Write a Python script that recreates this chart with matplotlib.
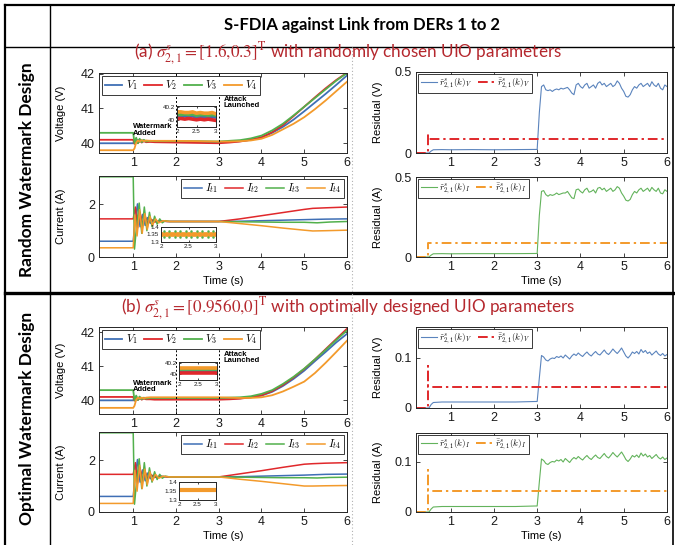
import numpy as np
import matplotlib
matplotlib.use("Agg")
import matplotlib.pyplot as plt
from matplotlib.lines import Line2D
from matplotlib.font_manager import FontProperties

plt.rcParams['font.family'] = ['Liberation Sans', 'DejaVu Sans']
plt.rcParams['mathtext.fontset'] = 'cm'

# ---------------- data ----------------
C_BLUE, C_RED, C_GREEN, C_ORANGE = '#3f6fb5', '#e0282b', '#52b04c', '#f39a2b'

# bus voltages (V)
t_v = [0.2, 1.0, 1.03, 1.07, 1.11, 1.15, 1.2, 1.25, 1.3, 1.4, 1.5, 2.0, 2.5,
       3.0, 3.25, 3.5, 3.75, 4.0, 4.25, 4.5, 4.75, 5.0, 5.25, 5.5, 5.75, 6.0]
V1_a = [40.0, 40.0, 40.08, 40.03, 40.1, 40.04, 40.09, 40.05, 40.07, 40.05, 40.05, 40.05, 40.04,
        40.03, 40.04, 40.06, 40.1, 40.17, 40.3, 40.47, 40.68, 40.92, 41.17, 41.42, 41.68, 41.95]
V2_a = [40.1, 40.1, 39.98, 40.12, 40.0, 40.1, 40.02, 40.07, 40.03, 40.04, 40.03, 40.02, 40.01,
        40.0, 40.02, 40.05, 40.1, 40.17, 40.32, 40.52, 40.78, 41.05, 41.32, 41.58, 41.82, 42.03]
V3_a = [40.3, 40.3, 40.0, 40.16, 40.0, 40.13, 40.03, 40.1, 40.05, 40.07, 40.06, 40.06, 40.06,
        40.05, 40.07, 40.09, 40.14, 40.22, 40.37, 40.56, 40.8, 41.05, 41.3, 41.55, 41.8, 42.02]
V4_a = [39.8, 39.8, 39.85, 40.02, 40.08, 40.05, 40.09, 40.06, 40.08, 40.07, 40.07, 40.07, 40.06,
        40.05, 40.05, 40.06, 40.08, 40.13, 40.24, 40.4, 40.56, 40.75, 40.98, 41.23, 41.5, 41.77]

V1_b = [40.0, 40.0, 40.07, 40.03, 40.08, 40.04, 40.07, 40.05, 40.06, 40.05, 40.05, 40.05, 40.05,
        40.04, 40.05, 40.06, 40.09, 40.14, 40.25, 40.42, 40.63, 40.87, 41.15, 41.42, 41.7, 41.95]
V2_b = [40.1, 40.1, 39.99, 40.1, 40.01, 40.08, 40.02, 40.06, 40.03, 40.03, 40.02, 40.02, 40.02,
        40.02, 40.03, 40.05, 40.09, 40.15, 40.27, 40.45, 40.67, 40.92, 41.2, 41.5, 41.8, 42.1]
V3_b = [40.3, 40.3, 40.0, 40.14, 40.01, 40.11, 40.03, 40.08, 40.05, 40.07, 40.07, 40.07, 40.07,
        40.07, 40.08, 40.09, 40.12, 40.19, 40.3, 40.48, 40.69, 40.93, 41.2, 41.48, 41.77, 42.05]
V4_b = [39.78, 39.78, 39.84, 40.02, 40.08, 40.05, 40.08, 40.06, 40.08, 40.09, 40.09, 40.09, 40.09,
        40.09, 40.08, 40.07, 40.07, 40.09, 40.15, 40.26, 40.4, 40.55, 40.8, 41.1, 41.42, 41.75]

# zoom window 2 s .. 3 s
t_zoom = [2.0, 2.1, 2.2, 2.3, 2.4, 2.5, 2.6, 2.7, 2.8, 2.9, 3.0]
Vz1_a = [40.07, 40.06, 40.07, 40.06, 40.07, 40.05, 40.06, 40.06, 40.05, 40.06, 40.05]
Vz2_a = [40.03, 40.03, 40.02, 40.03, 40.02, 40.01, 40.02, 40.01, 40.02, 40.01, 40.0]
Vz3_a = [40.1, 40.09, 40.1, 40.09, 40.1, 40.08, 40.09, 40.09, 40.08, 40.09, 40.08]
Vz4_a = [40.13, 40.13, 40.12, 40.12, 40.13, 40.11, 40.12, 40.11, 40.11, 40.12, 40.1]
Vz1_b = [40.05] * 11
Vz2_b = [40.02] * 11
Vz3_b = [40.09] * 11
Vz4_b = [40.12] * 11

# terminal currents (A)
t_i1 = [0.2, 1.0, 1.04, 1.1, 1.16, 1.22, 1.28, 1.34, 1.4, 1.47, 1.55, 1.65, 1.8, 2.0,
        3.0, 3.5, 4.0, 4.5, 5.0, 5.5, 6.0]
I1_a = [0.6, 0.6, 1.3, 2.02, 1.15, 1.62, 1.2, 1.5, 1.28, 1.42, 1.32, 1.38, 1.35, 1.35,
        1.35, 1.36, 1.38, 1.4, 1.42, 1.44, 1.45]
I1_b = [0.6, 0.6, 1.3, 2.02, 1.15, 1.62, 1.2, 1.5, 1.28, 1.42, 1.32, 1.38, 1.35, 1.35,
        1.35, 1.36, 1.38, 1.4, 1.42, 1.45, 1.46]
t_i2 = [0.2, 1.0, 1.05, 1.1, 1.16, 1.22, 1.28, 1.34, 1.42, 1.5, 1.6, 1.8, 2.0,
        3.0, 3.5, 4.0, 4.5, 5.0, 5.2, 5.5, 6.0]
I2_a = [1.45, 1.45, 1.9, 1.1, 1.7, 1.22, 1.55, 1.28, 1.43, 1.33, 1.37, 1.35, 1.35,
        1.35, 1.45, 1.57, 1.69, 1.81, 1.85, 1.87, 1.9]
I2_b = [1.45, 1.45, 1.9, 1.1, 1.7, 1.22, 1.55, 1.28, 1.43, 1.33, 1.37, 1.35, 1.35,
        1.35, 1.47, 1.59, 1.72, 1.84, 1.86, 1.88, 1.9]
t_i3 = [0.2, 1.0, 1.03, 1.08, 1.14, 1.2, 1.26, 1.32, 1.38, 1.44, 1.5, 1.56, 1.62, 1.68,
        1.75, 1.85, 2.0, 3.0, 3.5, 4.0, 4.5, 5.0, 5.3, 5.6, 6.0]
I3_a = [3.05, 3.05, 0.3, 1.2, 2.05, 0.9, 1.9, 1.0, 1.7, 1.15, 1.55, 1.25, 1.45, 1.3,
        1.38, 1.35, 1.35, 1.35, 1.34, 1.33, 1.32, 1.32, 1.3, 1.33, 1.35]
I3_b = [3.05, 3.05, 0.3, 1.2, 2.05, 0.9, 1.9, 1.0, 1.7, 1.15, 1.55, 1.25, 1.45, 1.3,
        1.38, 1.35, 1.35, 1.35, 1.34, 1.33, 1.32, 1.32, 1.31, 1.33, 1.34]
t_i4 = [0.2, 1.0, 1.04, 1.09, 1.15, 1.21, 1.27, 1.33, 1.39, 1.45, 1.52, 1.6, 1.7, 1.85,
        2.0, 3.0, 3.5, 4.0, 4.5, 5.0, 5.2, 5.5, 6.0]
I4_a = [0.35, 0.35, 1.6, 0.8, 1.8, 0.9, 1.65, 1.05, 1.55, 1.2, 1.45, 1.3, 1.38, 1.35,
        1.35, 1.35, 1.27, 1.19, 1.1, 1.02, 0.99, 1.0, 1.02]
I4_b = [0.33, 0.33, 1.6, 0.8, 1.8, 0.9, 1.65, 1.05, 1.55, 1.2, 1.45, 1.3, 1.38, 1.35,
        1.35, 1.35, 1.26, 1.18, 1.09, 1.0, 1.0, 1.01, 1.02]
Iz_edge = [2.05, 2.15, 2.25, 2.35, 2.45, 2.55, 2.65, 2.75, 2.85, 2.95]

# residuals
t_pre = [0.2, 0.5, 0.55, 0.6, 0.8, 1.0, 1.5, 2.0, 2.5, 2.95]
rV_a_pre = [0.0, 0.0, 0.012, 0.02, 0.021, 0.02, 0.021, 0.02, 0.021, 0.022]
rI_a_pre = [0.0, 0.0, 0.012, 0.02, 0.021, 0.02, 0.021, 0.021, 0.021, 0.022]
rV_b_pre = [0.0, 0.0, 0.007, 0.011, 0.012, 0.012, 0.012, 0.012, 0.012, 0.013]
rI_b_pre = [0.0, 0.0, 0.006, 0.01, 0.011, 0.011, 0.011, 0.011, 0.011, 0.012]

rV_a_post = [0.022, 0.25, 0.41, 0.42, 0.39, 0.385, 0.39, 0.38, 0.39, 0.395, 0.39, 0.40,
             0.395, 0.40, 0.405, 0.39, 0.37, 0.36, 0.42, 0.43, 0.41, 0.40, 0.42, 0.43,
             0.40, 0.41, 0.42, 0.40, 0.43, 0.44, 0.42, 0.43, 0.41, 0.42, 0.43, 0.41,
             0.42, 0.445, 0.43, 0.40, 0.38, 0.35, 0.345, 0.36, 0.39, 0.41, 0.40, 0.42,
             0.43, 0.41, 0.42, 0.43, 0.41, 0.44, 0.42, 0.41, 0.43, 0.40, 0.39, 0.42, 0.41]
rI_a_post = [0.022, 0.26, 0.41, 0.415, 0.39, 0.38, 0.39, 0.385, 0.39, 0.40, 0.39, 0.395,
             0.40, 0.40, 0.41, 0.39, 0.37, 0.365, 0.42, 0.425, 0.41, 0.40, 0.42, 0.43,
             0.405, 0.41, 0.42, 0.40, 0.43, 0.435, 0.42, 0.43, 0.41, 0.42, 0.43, 0.41,
             0.42, 0.44, 0.43, 0.40, 0.38, 0.355, 0.35, 0.36, 0.39, 0.41, 0.40, 0.42,
             0.43, 0.41, 0.42, 0.43, 0.41, 0.435, 0.42, 0.41, 0.43, 0.40, 0.395, 0.42, 0.41]
rV_b_post = [0.013, 0.06, 0.105, 0.102, 0.096, 0.094, 0.098, 0.1, 0.099, 0.103, 0.101,
             0.104, 0.1, 0.106, 0.102, 0.098, 0.104, 0.108, 0.105, 0.11, 0.106, 0.103,
             0.108, 0.112, 0.107, 0.104, 0.109, 0.113, 0.108, 0.106, 0.111, 0.116, 0.11,
             0.107, 0.112, 0.118, 0.113, 0.109, 0.114, 0.12, 0.112, 0.104, 0.1, 0.105,
             0.112, 0.109, 0.113, 0.108, 0.117, 0.111, 0.115, 0.109, 0.112, 0.106, 0.11,
             0.114, 0.108, 0.105, 0.109, 0.104, 0.107]
rI_b_post = [0.012, 0.06, 0.106, 0.103, 0.097, 0.095, 0.099, 0.101, 0.1, 0.104, 0.102,
             0.105, 0.1, 0.107, 0.103, 0.099, 0.105, 0.109, 0.106, 0.111, 0.107, 0.104,
             0.109, 0.113, 0.108, 0.105, 0.11, 0.114, 0.109, 0.107, 0.112, 0.117, 0.111,
             0.108, 0.113, 0.119, 0.114, 0.11, 0.115, 0.12, 0.113, 0.105, 0.101, 0.106,
             0.113, 0.11, 0.114, 0.109, 0.118, 0.112, 0.116, 0.11, 0.113, 0.107, 0.111,
             0.115, 0.109, 0.106, 0.11, 0.105, 0.108]
t_post = [round(3.0 + 0.05 * k, 2) for k in range(61)]

t_thr = [0.2, 0.47, 0.47, 0.47, 6.0]
thrV_a = [0.0, 0.0, 0.125, 0.085, 0.085]
thrI_a = [0.0, 0.0, 0.085, 0.085, 0.085]
thrV_b = [0.0, 0.0, 0.085, 0.043, 0.043]
thrI_b = [0.0, 0.0, 0.085, 0.043, 0.043]

# ---------------- figure ----------------
W, H = 675, 545
fig = plt.figure(figsize=(W / 100, H / 100), dpi=100)


def px_axes(x0, y0, x1, y1):
    return fig.add_axes([x0 / W, 1 - y1 / H, (x1 - x0) / W, (y1 - y0) / H])


def fig_line(xs, ys, **kw):
    fig.add_artist(Line2D([x / W for x in xs], [1 - y / H for y in ys],
                          transform=fig.transFigure, **kw))


def style(ax, fs=9, length=3):
    ax.tick_params(direction='in', top=True, right=True, length=length, width=0.6,
                   labelsize=fs, pad=3, color='#262626', labelcolor='#1a1a1a')
    for sp in ax.spines.values():
        sp.set_linewidth(0.7)
        sp.set_color('#262626')


def label_at(ax, box, xlab_top=None, ylab_right=None, xs='Time (s)', ys=''):
    x0, y0, x1, y1 = box
    if ys:
        ax.set_ylabel(ys, fontsize=8)
        ax.yaxis.set_label_coords((ylab_right - x0) / (x1 - x0), 0.5)
    if xlab_top is not None:
        ax.set_xlabel(xs, fontsize=8, va='top')
        ax.xaxis.set_label_coords(0.5, -(xlab_top - y1) / (y1 - y0))


leg_kw = dict(frameon=True, fancybox=False, framealpha=1, edgecolor='#1a1a1a',
              borderpad=0.25, handletextpad=0.3, columnspacing=0.6, borderaxespad=0.25)


def inset_ticks(ins, yticks, ylabels):
    ins.set_xlim(2, 3)
    ins.set_xticks([2, 2.5, 3])
    ins.set_xticklabels(['2', '2.5', '3'])
    ins.set_yticks(yticks)
    ins.set_yticklabels(ylabels)
    style(ins, fs=4.5, length=1.5)
    ins.tick_params(pad=1.5)


def voltage_panel(box, V, Vz, zbox, zylim, ylim, wm_xy, at_xy):
    ax = px_axes(*box)
    for vals, c, n in zip(V, [C_BLUE, C_RED, C_GREEN, C_ORANGE], range(1, 5)):
        ax.plot(t_v, vals, color=c, lw=1.3, label=rf'$V_{n}$')
    for xv in (2, 3):
        ax.axvline(xv, color='k', lw=0.7, ls=(0, (2, 2)))
    ax.set_xlim(0.2, 6)
    ax.set_ylim(*ylim)
    ax.set_xticks([1, 2, 3, 4, 5, 6])
    ax.set_yticks([40, 41, 42])
    style(ax)
    leg = ax.legend(loc='upper left', ncol=4, handlelength=1.6,
                    prop=FontProperties(size=8, math_fontfamily='cm'), **leg_kw)
    leg.get_frame().set_linewidth(0.6)
    ax.text(*wm_xy, 'Watermark\nAdded', fontsize=5.5, fontweight='bold',
            ha='left', va='bottom', linespacing=0.85)
    ax.text(*at_xy, 'Attack\nLaunched', fontsize=5.5, fontweight='bold',
            ha='left', va='bottom', linespacing=0.85)
    ins = px_axes(*zbox)
    for vals, c in zip(Vz, [C_BLUE, C_RED, C_GREEN, C_ORANGE]):
        ins.plot(t_zoom, vals, color=c, lw=2.6)
    ins.set_ylim(*zylim)
    inset_ticks(ins, [40, 40.2], ['40', '40.2'])
    return ax


def current_panel(box, I, zbox, iz_b, show_green):
    ax = px_axes(*box)
    times = [t_i1, t_i2, t_i3, t_i4]
    for tt, vals, c, n in zip(times, I, [C_BLUE, C_RED, C_GREEN, C_ORANGE], range(1, 5)):
        ax.plot(tt, vals, color=c, lw=1.1, label=rf'$I_{{t{n}}}$')
    ax.set_xlim(0.2, 6)
    ax.set_ylim(0, 3.08)
    ax.set_xticks([1, 2, 3, 4, 5, 6])
    ax.set_yticks([0, 2])
    style(ax)
    leg = ax.legend(loc='upper right', ncol=4, handlelength=1.6,
                    prop=FontProperties(size=8, math_fontfamily='cm'), **leg_kw)
    leg.get_frame().set_linewidth(0.6)
    ins = px_axes(*zbox)
    ins.plot(t_zoom, [1.355] * len(t_zoom), color=C_ORANGE, lw=iz_b)
    if show_green:
        ins.plot(Iz_edge, [1.335] * len(Iz_edge), 'o', color=C_GREEN, ms=1.8, mew=0)
        ins.plot(Iz_edge, [1.375] * len(Iz_edge), 'o', color=C_GREEN, ms=1.8, mew=0)
    ins.set_ylim(1.3, 1.4)
    inset_ticks(ins, [1.3, 1.35, 1.4], ['1.3', '1.35', '1.4'])
    return ax


def residual_panel(box, pre, post, thr, c_res, c_thr, lab, ylim, yticks):
    ax = px_axes(*box)
    ax.plot(t_pre + t_post, pre + post, color=c_res, lw=0.8,
            label=r'$\tilde{r}^{s}_{2,1}(k)_' + lab + '$')
    ax.plot(t_thr, thr, color=c_thr, lw=1.4, ls=(0, (5, 2, 1.2, 2)),
            label=r'$\bar{\tilde{r}}^{s}_{2,1}(k)_' + lab + '$')
    ax.set_xlim(0.2, 6)
    ax.set_ylim(*ylim)
    ax.set_xticks([1, 2, 3, 4, 5, 6])
    ax.set_yticks(yticks)
    ax.set_yticklabels([f'{v:g}' for v in yticks])
    style(ax)
    leg = ax.legend(loc='upper left', ncol=2, handlelength=1.8,
                    prop=FontProperties(size=6.5, math_fontfamily='cm'), **leg_kw)
    leg.get_frame().set_linewidth(0.6)
    return ax


# ----- row (a)
b = (99, 73, 347, 153)
ax = voltage_panel(b, [V1_a, V2_a, V3_a, V4_a], [Vz1_a, Vz2_a, Vz3_a, Vz4_a],
                   (177, 106, 216, 127), (39.9, 40.22), (39.72, 42.02),
                   (1.0, 40.19), (3.12, 40.98))
label_at(ax, b, ylab_right=66, ys='Voltage (V)')
b = (99, 176, 347, 257)
ax = current_panel(b, [I1_a, I2_a, I3_a, I4_a], (161, 227, 216, 242), 3.4, True)
label_at(ax, b, xlab_top=276, ylab_right=66, ys='Current (A)')
b = (416, 72, 667, 153)
ax = residual_panel(b, rV_a_pre, rV_a_post, thrV_a, '#5b84bd', '#e0282b', 'V',
                    (0, 0.5), [0, 0.5])
label_at(ax, b, ylab_right=383, ys='Residual (V)')
b = (416, 177, 667, 257)
ax = residual_panel(b, rI_a_pre, rI_a_post, thrI_a, '#63b35c', '#f39a2b', 'I',
                    (0, 0.5), [0, 0.5])
label_at(ax, b, xlab_top=276, ylab_right=383, ys='Residual (A)')

# ----- row (b)
b = (99, 327, 347, 414)
ax = voltage_panel(b, [V1_b, V2_b, V3_b, V4_b], [Vz1_b, Vz2_b, Vz3_b, Vz4_b],
                   (179, 362, 217, 380), (39.9, 40.22), (39.6, 42.15),
                   (1.0, 40.22), (3.12, 41.07))
label_at(ax, b, ylab_right=66, ys='Voltage (V)')
b = (99, 432, 347, 512)
ax = current_panel(b, [I1_b, I2_b, I3_b, I4_b], (179, 482, 216, 500), 3.0, False)
label_at(ax, b, xlab_top=531, ylab_right=66, ys='Current (A)')
b = (416, 327, 667, 408)
ax = residual_panel(b, rV_b_pre, rV_b_post, thrV_b, '#5b84bd', '#e0282b', 'V',
                    (0, 0.162), [0, 0.1])
label_at(ax, b, ylab_right=383, ys='Residual (V)')
b = (416, 433, 667, 512)
ax = residual_panel(b, rI_b_pre, rI_b_post, thrI_b, '#63b35c', '#f39a2b', 'I',
                    (0, 0.158), [0, 0.1])
label_at(ax, b, xlab_top=531, ylab_right=383, ys='Residual (A)')

# ----- table frame
fig_line([5, W], [5, 5], color='k', lw=1.6)
fig_line([5, 5], [5, H], color='k', lw=1.6)
fig_line([W - 2, W - 2], [5, H], color='k', lw=1.2)
fig_line([50, 50], [5, H], color='k', lw=1.0)
fig_line([5, W], [47, 47], color='k', lw=1.0)
fig_line([5, W], [293, 293], color='k', lw=2.4)
fig_line([352, 352], [47, H], color='#b0b0b0', lw=0.8, ls=(0, (1, 2)))

fig.text(362 / W, 1 - 25 / H, 'S-FDIA against Link from DERs 1 to 2', ha='center',
         va='center', fontsize=12, fontweight='bold', family='Lato')
fig.text(27 / W, 1 - 170 / H, 'Random Watermark Design', rotation=90, ha='center',
         va='center', fontsize=12.5, fontweight='bold', family='Lato')
fig.text(27 / W, 1 - 418 / H, 'Optimal Watermark Design', rotation=90, ha='center',
         va='center', fontsize=12.5, fontweight='bold', family='Lato')
fig.text(348 / W, 1 - 54 / H,
         r'(a) $\sigma^{s}_{2,1} = [1.6{,}0.3]^{\mathrm{T}}$ with randomly chosen UIO parameters',
         ha='center', va='center', fontsize=12.3, color='#b5282e', family='Lato',
         math_fontfamily='stix')
fig.text(348 / W, 1 - 309 / H,
         r'(b) $\sigma^{s}_{2,1} = [0.9560{,}0]^{\mathrm{T}}$ with optimally designed UIO parameters',
         ha='center', va='center', fontsize=12.3, color='#b5282e', family='Lato',
         math_fontfamily='stix')

fig.savefig('out.png', dpi=100)
